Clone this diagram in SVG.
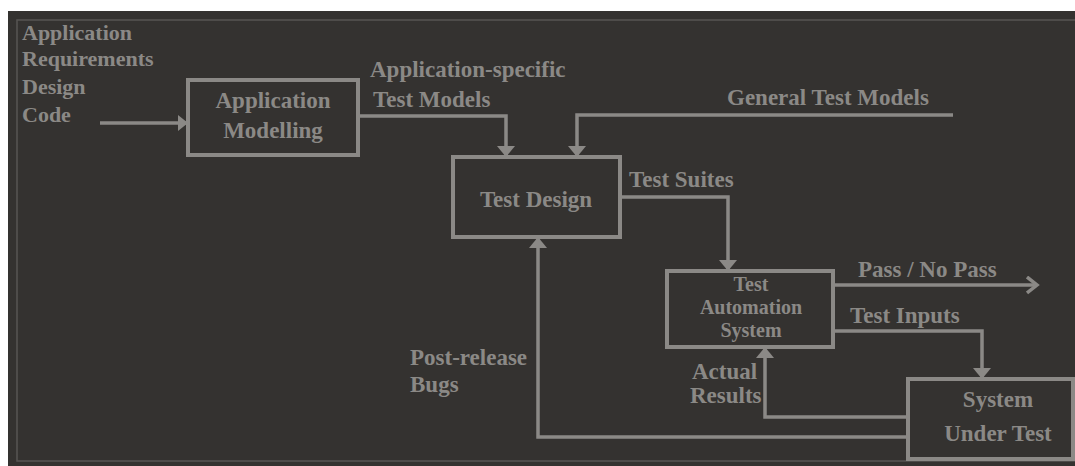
<svg xmlns="http://www.w3.org/2000/svg" width="1075" height="466" viewBox="0 0 1075 466">
<defs>
<style>
.t{font-family:"Liberation Serif","Times New Roman",serif;font-weight:bold;font-size:23px;fill:#8b8986}
.s{font-size:20px}
.l{font-size:22px}
.c{text-anchor:middle}
.box{fill:none;stroke:#8b8986;stroke-width:4}
.ln{fill:none;stroke:#8b8986;stroke-width:3.5}
</style>
<marker id="ah" markerUnits="userSpaceOnUse" markerWidth="20" markerHeight="20" refX="11" refY="9" orient="auto">
<path d="M0,0 L11,9 L0,18 Z" fill="#8b8986"/>
</marker>
<marker id="ahs" markerUnits="userSpaceOnUse" markerWidth="14" markerHeight="20" refX="10" refY="9" orient="auto">
<path d="M0,1 L10,9 L0,17 Z" fill="#8b8986"/>
</marker>
<marker id="open" markerUnits="userSpaceOnUse" markerWidth="16" markerHeight="20" refX="11" refY="9" orient="auto">
<path d="M1,1 L11,9 L1,17" fill="none" stroke="#8b8986" stroke-width="3.5"/>
</marker>
</defs>
<rect x="0" y="0" width="1075" height="466" fill="#ffffff"/>
<rect x="8" y="11" width="1070" height="460" fill="#343230"/>
<rect x="17" y="20" width="1070" height="441" fill="none" stroke="#575553" stroke-width="1.5"/>

<g id="inputs">
<text class="t l" x="22" y="40">Application</text>
<text class="t l" x="22" y="66">Requirements</text>
<text class="t l" x="22" y="94">Design</text>
<text class="t l" x="22" y="122">Code</text>
</g>

<g id="connectors">
<path class="ln" d="M100,123 H188" stroke-width="3" marker-end="url(#ahs)"/>
<path class="ln" d="M358,116 H506 V157" marker-end="url(#ah)"/>
<path class="ln" d="M953,115 H577 V157" marker-end="url(#ah)"/>
<path class="ln" d="M620,197 H728 V271" marker-end="url(#ah)"/>
<path class="ln" d="M833,285 H1037" marker-end="url(#open)"/>
<path class="ln" d="M833,331 H982 V379" marker-end="url(#ah)"/>
<path class="ln" d="M908,417 H765 V347" marker-end="url(#ah)"/>
<path class="ln" d="M908,437 H538 V237" marker-end="url(#ah)"/>
<text class="t" x="370" y="77">Application-specific</text>
<text class="t" x="373" y="107">Test Models</text>
<text class="t" x="727" y="105">General Test Models</text>
<text class="t" x="629" y="187">Test Suites</text>
<text class="t" x="858" y="277">Pass / No Pass</text>
<text class="t" x="850" y="323">Test Inputs</text>
<text class="t" x="692" y="379">Actual</text>
<text class="t" x="690" y="403">Results</text>
<text class="t" x="410" y="365">Post-release</text>
<text class="t" x="410" y="392">Bugs</text>
</g>

<g id="app-modelling">
<rect class="box" x="188" y="80" width="170" height="75"/>
<text class="t c" x="273" y="108">Application</text>
<text class="t c" x="273" y="138">Modelling</text>
</g>

<g id="test-design">
<rect class="box" x="453" y="157" width="167" height="80"/>
<text class="t c" x="536" y="207">Test Design</text>
</g>

<g id="test-automation">
<rect class="box" x="667" y="271" width="166" height="76"/>
<text class="t s c" x="751" y="291">Test</text>
<text class="t s c" x="751" y="314">Automation</text>
<text class="t s c" x="751" y="337">System</text>
</g>

<g id="system-under-test">
<rect class="box" x="908" y="379" width="165" height="80"/>
<text class="t c" x="998" y="407">System</text>
<text class="t c" x="998" y="441">Under Test</text>
</g>
</svg>
